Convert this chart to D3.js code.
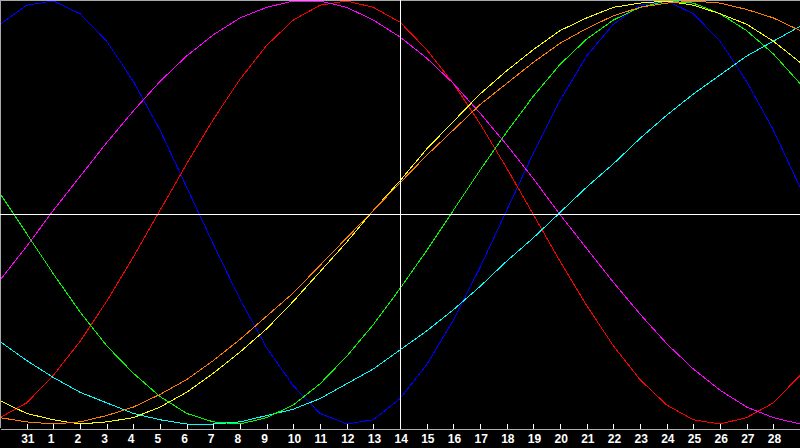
<!DOCTYPE html>
<html>
<head>
<meta charset="utf-8">
<script src="https://cdn.jsdelivr.net/npm/d3@7"></script>
<style>
  html, body { margin: 0; padding: 0; background: #000; }
  svg { display: block; }
</style>
</head>
<body>
<svg id="chart" width="800" height="448"></svg>
<script>
// Tick labels (days of the month), positions 1..29
const days = ["31","1","2","3","4","5","6","7","8","9","10","11","12","13","14",
              "15","16","17","18","19","20","21","22","23","24","25","26","27","28"];

// Series values (percent), one value per day position 0..30 (left edge .. right edge)
const physical     = [89,98,100,94,81,62,39,12,-15,-41,-64,-82,-95,-100,-98,-88,-72,-51,-26,1,28,53,74,89,98,100,94,81,62,39,12];
const emotional    = [-97,-90,-77,-61,-42,-21,1,23,44,63,79,91,98,100,97,90,77,61,42,21,-1,-23,-44,-63,-79,-91,-98,-100,-97,-90,-77];
const intellectual = [9,-10,-29,-47,-63,-76,-87,-95,-99,-100,-97,-91,-81,-68,-53,-36,-18,1,20,38,55,70,82,91,97,100,99,94,86,75,61];
const intuitive    = [-32,-16,1,17,33,48,62,74,84,92,97,100,100,97,91,83,73,61,47,32,16,-1,-17,-33,-48,-62,-74,-84,-92,-97,-100];
const aesthetic    = [-89,-95,-98,-100,-99,-97,-92,-85,-76,-66,-55,-42,-28,-14,1,15,30,43,56,67,77,86,92,97,99,100,98,94,89,81,71];
const awareness    = [-97,-99,-100,-99,-96,-92,-86,-79,-70,-60,-49,-38,-25,-12,1,14,27,39,51,61,71,80,87,93,97,99,100,99,96,92,86];
const spiritual    = [-61,-70,-78,-85,-90,-95,-98,-100,-100,-99,-96,-93,-88,-81,-74,-65,-56,-46,-35,-23,-12,0,12,23,35,46,56,65,74,81,88];

const seriesList = [
  { values: physical,     color: "#0000ff" },
  { values: emotional,    color: "#ff0000" },
  { values: intuitive,    color: "#ff00ff" },
  { values: spiritual,    color: "#00ffff" },
  { values: intellectual, color: "#00ff00" },
  { values: aesthetic,    color: "#ffff00" },
  { values: awareness,    color: "#ff8000" }
];

const W = 800, H = 448, axisY = 428;
const svg = d3.select("#chart");

svg.append("rect").attr("width", W).attr("height", H).attr("fill", "#000");

const x = d3.scaleLinear().domain([0, 30]).range([0, W]);
const y = d3.scaleLinear().domain([-100, 100]).range([424, 1]);

const line = d3.line().x((d, i) => x(i)).y(d => y(d));

const curves = svg.append("g");
seriesList.forEach(s => {
  curves.append("path")
    .datum(s.values)
    .attr("d", line)
    .attr("fill", "none")
    .attr("stroke", s.color)
    .attr("stroke-width", 1)
    .attr("shape-rendering", "crispEdges");
});

// frame (top and left edges)
svg.append("line").attr("x1", 0).attr("x2", W).attr("y1", 0.5).attr("y2", 0.5)
  .attr("stroke", "#a8a8a8").attr("shape-rendering", "crispEdges");
svg.append("line").attr("x1", 0.5).attr("x2", 0.5).attr("y1", 0).attr("y2", axisY)
  .attr("stroke", "#a8a8a8").attr("shape-rendering", "crispEdges");

// crosshair
svg.append("line").attr("x1", 0).attr("x2", W).attr("y1", 214.5).attr("y2", 214.5)
  .attr("stroke", "#ffffff").attr("shape-rendering", "crispEdges");
svg.append("line").attr("x1", x(15) + 0.5).attr("x2", x(15) + 0.5).attr("y1", 0).attr("y2", axisY)
  .attr("stroke", "#ffffff").attr("shape-rendering", "crispEdges");

// axis
const axis = d3.axisBottom(x)
  .tickValues(d3.range(1, 30))
  .tickFormat(i => days[i - 1])
  .tickSizeInner(-5)
  .tickSizeOuter(0);

const gAxis = svg.append("g")
  .attr("transform", `translate(0,${axisY + 0.5})`)
  .call(axis);

gAxis.select(".domain").attr("stroke", "#b0b0b0").attr("shape-rendering", "crispEdges");
gAxis.selectAll(".tick line").attr("stroke", "#ffffff").attr("shape-rendering", "crispEdges");
gAxis.selectAll(".tick text")
  .attr("fill", "#ffffff")
  .attr("x", -6)
  .attr("y", 14.5)
  .attr("dy", 0)
  .attr("text-anchor", "start")
  .style("font-family", "'Liberation Sans', Arial, sans-serif")
  .style("font-weight", "bold")
  .style("font-size", "12px");
</script>
</body>
</html>
